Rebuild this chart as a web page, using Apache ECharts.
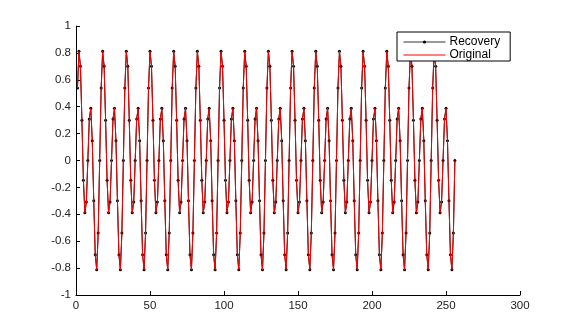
<!DOCTYPE html>
<html>
<head>
<meta charset="utf-8">
<script src="https://cdn.jsdelivr.net/npm/echarts@6/dist/echarts.min.js"></script>
<style>
html,body{margin:0;padding:0;background:#fff;}
#c{width:577px;height:335px;}
</style>
</head>
<body>
<div id="c"></div>
<script>
const xTicks = [0, 50, 100, 150, 200, 250, 300];
const yTicks = [-1, -0.8, -0.6, -0.4, -0.2, 0, 0.2, 0.4, 0.6, 0.8, 1];
const seriesNames = ['Recovery', 'Original'];

const original = [
 0.539, 0.812, 0.701, 0.3, -0.147, -0.388, -0.309, 0, 0.309, 0.388, 0.147, -0.3, -0.701, -0.812, -0.539, 0,
 0.539, 0.812, 0.701, 0.3, -0.147, -0.388, -0.309, 0, 0.309, 0.388, 0.147, -0.3, -0.701, -0.812, -0.539, 0,
 0.539, 0.812, 0.701, 0.3, -0.147, -0.388, -0.309, 0, 0.309, 0.388, 0.147, -0.3, -0.701, -0.812, -0.539, 0,
 0.539, 0.812, 0.701, 0.3, -0.147, -0.388, -0.309, 0, 0.309, 0.388, 0.147, -0.3, -0.701, -0.812, -0.539, 0,
 0.539, 0.812, 0.701, 0.3, -0.147, -0.388, -0.309, 0, 0.309, 0.388, 0.147, -0.3, -0.701, -0.812, -0.539, 0,
 0.539, 0.812, 0.701, 0.3, -0.147, -0.388, -0.309, 0, 0.309, 0.388, 0.147, -0.3, -0.701, -0.812, -0.539, 0,
 0.539, 0.812, 0.701, 0.3, -0.147, -0.388, -0.309, 0, 0.309, 0.388, 0.147, -0.3, -0.701, -0.812, -0.539, 0,
 0.539, 0.812, 0.701, 0.3, -0.147, -0.388, -0.309, 0, 0.309, 0.388, 0.147, -0.3, -0.701, -0.812, -0.539, 0,
 0.539, 0.812, 0.701, 0.3, -0.147, -0.388, -0.309, 0, 0.309, 0.388, 0.147, -0.3, -0.701, -0.812, -0.539, 0,
 0.539, 0.812, 0.701, 0.3, -0.147, -0.388, -0.309, 0, 0.309, 0.388, 0.147, -0.3, -0.701, -0.812, -0.539, 0,
 0.539, 0.812, 0.701, 0.3, -0.147, -0.388, -0.309, 0, 0.309, 0.388, 0.147, -0.3, -0.701, -0.812, -0.539, 0,
 0.539, 0.812, 0.701, 0.3, -0.147, -0.388, -0.309, 0, 0.309, 0.388, 0.147, -0.3, -0.701, -0.812, -0.539, 0,
 0.539, 0.812, 0.701, 0.3, -0.147, -0.388, -0.309, 0, 0.309, 0.388, 0.147, -0.3, -0.701, -0.812, -0.539, 0,
 0.539, 0.812, 0.701, 0.3, -0.147, -0.388, -0.309, 0, 0.309, 0.388, 0.147, -0.3, -0.701, -0.812, -0.539, 0,
 0.539, 0.812, 0.701, 0.3, -0.147, -0.388, -0.309, 0, 0.309, 0.388, 0.147, -0.3, -0.701, -0.812, -0.539, 0,
 0.539, 0.812, 0.701, 0.3, -0.147, -0.388, -0.309, 0, 0.309, 0.388, 0.147, -0.3, -0.701, -0.812, -0.539, 0
];

const recovery = [
 0.539, 0.812, 0.701, 0.3, -0.147, -0.388, -0.309, 0, 0.309, 0.388, 0.147, -0.3, -0.701, -0.812, -0.539, 0,
 0.539, 0.812, 0.701, 0.3, -0.147, -0.388, -0.309, 0, 0.309, 0.388, 0.147, -0.3, -0.701, -0.812, -0.539, 0,
 0.539, 0.812, 0.701, 0.3, -0.147, -0.388, -0.309, 0, 0.309, 0.388, 0.147, -0.3, -0.701, -0.812, -0.539, 0,
 0.539, 0.812, 0.701, 0.3, -0.147, -0.388, -0.309, 0, 0.309, 0.388, 0.147, -0.3, -0.701, -0.812, -0.539, 0,
 0.539, 0.812, 0.701, 0.3, -0.147, -0.388, -0.309, 0, 0.309, 0.388, 0.147, -0.3, -0.701, -0.812, -0.539, 0,
 0.539, 0.812, 0.701, 0.3, -0.147, -0.388, -0.309, 0, 0.309, 0.388, 0.147, -0.3, -0.701, -0.812, -0.539, 0,
 0.539, 0.812, 0.701, 0.3, -0.147, -0.388, -0.309, 0, 0.309, 0.388, 0.147, -0.3, -0.701, -0.812, -0.539, 0,
 0.539, 0.812, 0.701, 0.3, -0.147, -0.388, -0.309, 0, 0.309, 0.388, 0.147, -0.3, -0.701, -0.812, -0.539, 0,
 0.539, 0.812, 0.701, 0.3, -0.147, -0.388, -0.309, 0, 0.309, 0.388, 0.147, -0.3, -0.701, -0.812, -0.539, 0,
 0.539, 0.812, 0.701, 0.3, -0.147, -0.388, -0.309, 0, 0.309, 0.388, 0.147, -0.3, -0.701, -0.812, -0.539, 0,
 0.539, 0.812, 0.701, 0.3, -0.147, -0.388, -0.309, 0, 0.309, 0.388, 0.147, -0.3, -0.701, -0.812, -0.539, 0,
 0.539, 0.812, 0.701, 0.3, -0.147, -0.388, -0.309, 0, 0.309, 0.388, 0.147, -0.3, -0.701, -0.812, -0.539, 0,
 0.539, 0.812, 0.701, 0.3, -0.147, -0.388, -0.309, 0, 0.309, 0.388, 0.147, -0.3, -0.701, -0.812, -0.539, 0,
 0.539, 0.812, 0.701, 0.3, -0.147, -0.388, -0.309, 0, 0.309, 0.388, 0.147, -0.3, -0.701, -0.812, -0.539, 0,
 0.539, 0.812, 0.701, 0.3, -0.147, -0.388, -0.309, 0, 0.309, 0.388, 0.147, -0.3, -0.701, -0.812, -0.539, 0,
 0.539, 0.812, 0.701, 0.3, -0.147, -0.388, -0.309, 0, 0.309, 0.388, 0.147, -0.3, -0.701, -0.812, -0.539, 0
];

const toPairs = arr => arr.map((v, i) => [i + 1, v]);

const chart = echarts.init(document.getElementById('c'), null, {renderer: 'canvas'});
const font = 'Arial, "Liberation Sans", Helvetica, sans-serif';

chart.setOption({
  animation: false,
  backgroundColor: '#fff',
  grid: {left: 76, right: 57, top: 26, bottom: 40, containLabel: false},
  legend: {
    orient: 'vertical',
    left: 397,
    top: 32,
    padding: [4, 10, 0, 6],
    itemWidth: 42,
    itemHeight: 4,
    itemGap: 1,
    backgroundColor: '#fff',
    borderColor: '#000',
    borderWidth: 1,
    borderRadius: 0,
    textStyle: {fontFamily: font, fontSize: 12, color: '#000', padding: [0, 0, 0, -1]},
    data: [
      {name: seriesNames[0], itemStyle: {color: '#000'}, lineStyle: {color: '#333', width: 1}},
      {name: seriesNames[1], itemStyle: {color: 'rgba(0,0,0,0)', borderWidth: 0}, lineStyle: {color: '#ff0000', width: 1}}
    ]
  },
  xAxis: {
    type: 'value',
    min: xTicks[0],
    max: xTicks[xTicks.length - 1],
    interval: 50,
    axisLine: {show: true, onZero: false, lineStyle: {color: '#000', width: 1}},
    axisTick: {show: true, inside: true, length: 4, lineStyle: {color: '#000'}},
    axisLabel: {fontFamily: font, fontSize: 11.5, color: '#222', margin: 5},
    splitLine: {show: false}
  },
  yAxis: {
    type: 'value',
    min: yTicks[0],
    max: yTicks[yTicks.length - 1],
    interval: 0.2,
    axisLine: {show: true, onZero: false, lineStyle: {color: '#000', width: 1}},
    axisTick: {show: true, inside: true, length: 4, lineStyle: {color: '#000'}},
    axisLabel: {fontFamily: font, fontSize: 11.5, color: '#222', margin: 5,
      formatter: v => String(Math.round(v * 10) / 10)},
    splitLine: {show: false}
  },
  series: [
    {
      name: seriesNames[0],
      type: 'line',
      data: toPairs(recovery),
      symbol: 'circle',
      symbolSize: 3,
      showSymbol: true,
      showAllSymbol: true,
      itemStyle: {color: '#000'},
      lineStyle: {color: '#000', width: 1},
      z: 2
    },
    {
      name: seriesNames[1],
      type: 'line',
      data: toPairs(original),
      symbol: 'none',
      itemStyle: {color: '#ff0000'},
      lineStyle: {color: '#ff0000', width: 1},
      z: 3
    }
  ]
});
</script>
</body>
</html>
